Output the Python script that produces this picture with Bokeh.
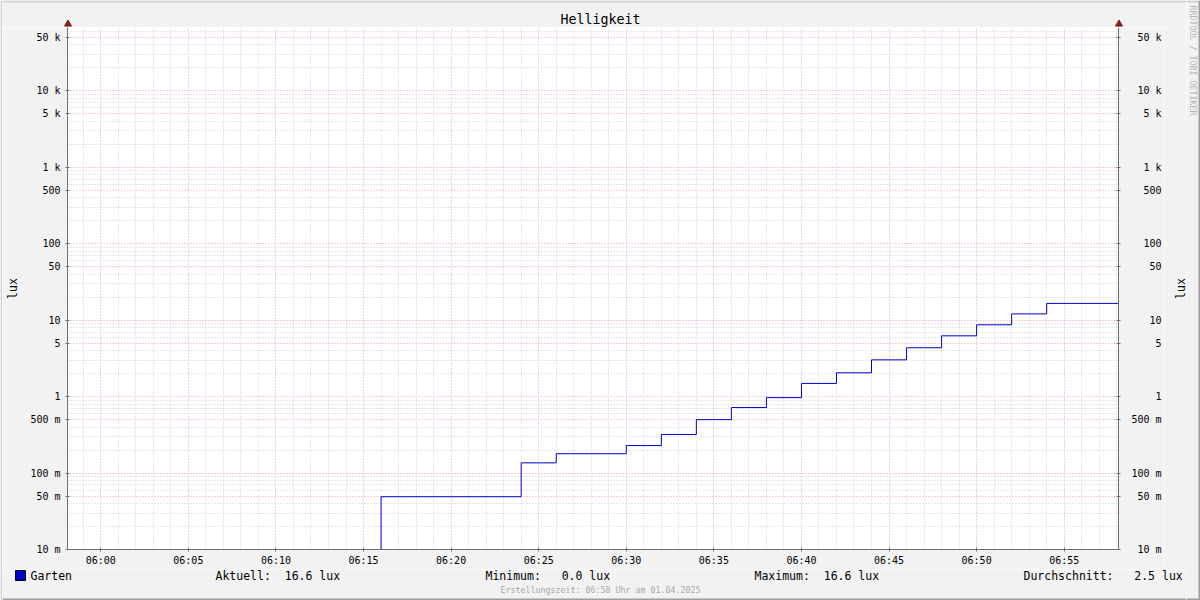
import numpy as np
import pandas as pd
from math import pi
from bokeh.plotting import figure
from bokeh.layouts import row, column
from bokeh.models import Range1d, FixedTicker, LogAxis, CustomJSTickFormatter
from bokeh.core.properties import value
from bokeh.embed import file_html
from bokeh.resources import INLINE

# ---------------- data ----------------
title_text = "Helligkeit"
series_name = "Garten"
unit = "lux"
day = "2025-04-01"
step_times = ["05:58:06", "06:16", "06:24", "06:26", "06:30", "06:32", "06:34",
              "06:36", "06:38", "06:40", "06:42", "06:44", "06:46", "06:48",
              "06:50", "06:52", "06:54", "06:58:06"]
step_values = [0.0, 0.049, 0.136, 0.179, 0.229, 0.32, 0.50,
               0.72, 0.97, 1.49, 2.05, 3.03, 4.36, 6.25,
               8.71, 12.1, 16.6, 16.6]
x_start, x_end = "05:58:06", "06:58:06"
y_min, y_max = 0.01, 67600
x_tick_labels = ["06:00", "06:05", "06:10", "06:15", "06:20", "06:25",
                 "06:30", "06:35", "06:40", "06:45", "06:50", "06:55"]
y_tick_values = [0.01, 0.05, 0.1, 0.5, 1, 5, 10, 50, 100, 500,
                 1000, 5000, 10000, 50000]
y_tick_labels = ["10 m", "50 m", "100 m", "500 m", "1", "5", "10", "50", "100",
                 "500", "1 k", "5 k", "10 k", "50 k"]
stat_names = ["Aktuell:", "Minimum:", "Maximum:", "Durchschnitt:"]
stat_values = [16.6, 0.0, 16.6, 2.5]
footer_text = "Erstellungszeit: 06:58 Uhr am 01.04.2025"
watermark_text = "RRDTOOL / TOBI OETIKER"

# ---------------- layout geometry (page pixels) ----------------
W, H = 1200, 600
FL, FR, FT, FB = 67, 1118, 27, 549      # plot frame
MID_L, MID_R = 2, 1186                  # middle column
P_R = 1164                              # right edge of the main plot canvas
B_TOP = 569                             # legend strip top
FONT = "DejaVu Sans Mono"
BG = "#f2f2f2"
SHADE_A = "#cfcfcf"
SHADE_B = "#9e9e9e"
AXIS = "#6e6e6e"
MGRID = "#eaa5a5"
GRID = "#cccccc"
ARROW = "#801f1f"
LINE = "#0000cc"


def ts(t):
    return pd.Timestamp(day + " " + t)


def ms(t):
    return ts(t).timestamp() * 1000.0


def strip(x0, x1, y0, y1):
    f = figure(width=x1 - x0, height=y1 - y0,
               x_range=Range1d(x0, x1), y_range=Range1d(y1, y0),
               x_axis_location=None, y_axis_location=None,
               output_backend="svg", toolbar_location=None,
               min_border=0, min_border_left=0, min_border_right=0,
               min_border_top=0, min_border_bottom=0,
               background_fill_color=BG, border_fill_color=BG,
               outline_line_color=None, frame_align=False)
    f.title.visible = False
    f.xgrid.visible = False
    f.ygrid.visible = False
    return f


def txt(f, x, y, text, size, color="black", align="left", angle=0.0):
    f.text(x=[x], y=[y], text=[text], text_font=value(FONT),
           text_font_size=value(size), text_color=color,
           text_align=align, text_baseline="middle", angle=angle)


# ---------------- main plot ----------------
x_vals = [ts(t) for t in step_times]
y_draw = np.maximum(np.array(step_values, dtype=float), y_min)

p = figure(width=P_R - MID_L, height=B_TOP - FT,
           x_axis_type="datetime", y_axis_type="log",
           x_range=Range1d(ts(x_start), ts(x_end)),
           y_range=Range1d(y_min, y_max),
           output_backend="svg", toolbar_location=None,
           min_border_left=FL - MID_L, min_border_right=P_R - FR,
           min_border_top=0, min_border_bottom=B_TOP - FB,
           background_fill_color="white", border_fill_color=BG,
           outline_line_color=None, frame_align=False)
p.title.visible = False

x_major = [ms(l) for l in x_tick_labels]
end_ms = ms(x_end)
x_minor = []
m = ms("05:59")
while m < end_ms:
    if all(abs(m - v) > 1000 for v in x_major):
        x_minor.append(m)
    m += 60000
x_ticker = FixedTicker(ticks=x_major, minor_ticks=x_minor)

y_minor = []
for e in range(-2, 5):
    for k in (2, 3, 4, 6, 7, 8, 9):
        v = k * 10.0 ** e
        if v < y_max:
            y_minor.append(v)
y_ticker = FixedTicker(ticks=y_tick_values, minor_ticks=y_minor)

x_fmt = CustomJSTickFormatter(args=dict(vals=x_major, labs=x_tick_labels), code="""
const i = vals.findIndex(v => Math.abs(v - tick) < 1000);
return i >= 0 ? labs[i] : "";
""")
y_fmt_left = CustomJSTickFormatter(args=dict(vals=y_tick_values, labs=y_tick_labels), code="""
const i = vals.findIndex(v => Math.abs(v - tick) / v < 1e-6);
return i >= 0 ? labs[i] : "";
""")
y_fmt_right = CustomJSTickFormatter(args=dict(vals=y_tick_values, labs=y_tick_labels), code="""
const i = vals.findIndex(v => Math.abs(v - tick) / v < 1e-6);
if (i < 0) return "";
const s = labs[i];
return "\\u00a0".repeat(Math.max(0, 5 - s.length)) + s;
""")


def style_axis(ax):
    ax.axis_line_color = AXIS
    ax.major_tick_line_color = AXIS
    ax.minor_tick_line_color = None
    ax.major_tick_in = 2
    ax.major_tick_out = 2
    ax.minor_tick_in = 0
    ax.minor_tick_out = 0
    ax.major_label_text_font = FONT
    ax.major_label_text_font_size = "10px"
    ax.major_label_text_color = "black"
    ax.axis_label_text_font = FONT
    ax.axis_label_text_font_size = "11.5px"
    ax.axis_label_text_font_style = "normal"
    ax.axis_label_text_color = "black"


xa = p.xaxis[0]
xa.ticker = x_ticker
xa.formatter = x_fmt
style_axis(xa)
xa.major_label_standoff = 3

ya = p.yaxis[0]
ya.ticker = y_ticker
ya.formatter = y_fmt_left
style_axis(ya)
ya.major_label_standoff = 5
ya.axis_label = unit
ya.axis_label_standoff = 7

yr = LogAxis(ticker=y_ticker, formatter=y_fmt_right)
style_axis(yr)
yr.major_label_standoff = 11
p.add_layout(yr, "right")

for g, tk in ((p.xgrid[0], x_ticker), (p.ygrid[0], y_ticker)):
    g.ticker = tk
    g.grid_line_color = MGRID
    g.grid_line_dash = "1 2"
    g.grid_line_width = 1
    g.minor_grid_line_color = GRID
    g.minor_grid_line_dash = "1 2"
    g.minor_grid_line_width = 1

p.step(x_vals, y_draw, mode="after", line_color=LINE, line_width=1)

# ---------------- strip right of the plot: right axis unit ----------------
rmid = strip(P_R, MID_R, FT, B_TOP)
txt(rmid, 1180, 288, unit, "11.5px", align="center", angle=pi / 2)

# ---------------- top strip: title, axis arrows ----------------
top = strip(MID_L, MID_R, 0, FT)
top.quad(left=[MID_L], right=[MID_R], top=[0], bottom=[2], fill_color=SHADE_A, line_color=None)
txt(top, 600, 19, title_text, "13.3px", align="center")
for ax_x in (FL + 0.5, FR + 0.5):
    top.segment(x0=[ax_x], y0=[FT], x1=[ax_x], y1=[22], line_color=AXIS, line_width=1)
    top.scatter(x=[ax_x], y=[23.5], marker="triangle", size=7,
                fill_color=ARROW, line_color=ARROW)

# ---------------- bottom strip: legend, footer ----------------
bot = strip(MID_L, MID_R, B_TOP, H)
bot.quad(left=[MID_L], right=[MID_R], top=[H - 2], bottom=[H], fill_color=SHADE_B, line_color=None)
bot.quad(left=[15], right=[25], top=[570], bottom=[580], fill_color=LINE, line_color="black")
txt(bot, 30, 575, series_name, "11.5px")
CW = 0.602 * 11.5
stat_x = [215, 485, 754, 1023]
for name, val, x0 in zip(stat_names, stat_values, stat_x):
    full = f"{name} {val:5.1f} {unit}"
    vtxt = f"{val:.1f} {unit}"
    txt(bot, x0, 575, name, "11.5px")
    txt(bot, x0 + (len(full) - len(vtxt)) * CW, 575, vtxt, "11.5px")
txt(bot, 600, 589, footer_text, "8.3px", color="#a8a8a8", align="center")

# ---------------- side strips: frame shading, watermark ----------------
left = strip(0, MID_L, 0, H)
left.quad(left=[0], right=[MID_L], top=[0], bottom=[H], fill_color=SHADE_A, line_color=None)

right = strip(MID_R, W, 0, H)
right.quad(left=[MID_R], right=[W - 2], top=[0], bottom=[2], fill_color=SHADE_A, line_color=None)
right.quad(left=[W - 2], right=[W], top=[0], bottom=[H], fill_color=SHADE_B, line_color=None)
right.quad(left=[MID_R], right=[W], top=[H - 2], bottom=[H], fill_color=SHADE_B, line_color=None)
txt(right, 1192, 60, watermark_text, "8.3px", color="#b4b4b4", align="center", angle=-pi / 2)

layout = row(left, column(top, row(p, rmid), bot), right)
open("out.html", "w").write(file_html(layout, INLINE))
